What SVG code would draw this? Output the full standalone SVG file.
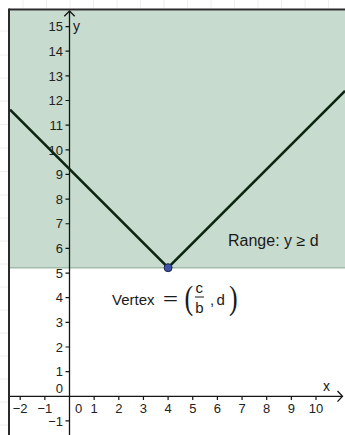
<svg xmlns="http://www.w3.org/2000/svg" width="345" height="435" viewBox="0 0 345 435">
<style>
.g{stroke:#eeeeee;stroke-width:1}
.ax{stroke:#151515;stroke-width:1.3;fill:none}
.tk{stroke:#151515;stroke-width:1.2}
.yl{font-family:"Liberation Sans",Arial,sans-serif;font-size:13px;fill:#222;text-anchor:end}
.xl{font-family:"Liberation Sans",Arial,sans-serif;font-size:13px;fill:#222;text-anchor:middle}
.t{font-family:"Liberation Sans",Arial,sans-serif;fill:#1a1a1a}
.p{font-family:"Liberation Serif","Times New Roman",serif;fill:#1a1a1a}
</style>
<rect x="0" y="0" width="345" height="435" fill="#ffffff"/>
<g id="margin-grid">
<path class="g" d="M23 0V8M46.5 0V8M70 0V8M93.5 0V8M117 0V8M140.5 0V8M164 0V8M187.5 0V8M211 0V8M234.5 0V8M258 0V8M281.5 0V8M305 0V8M328.5 0V8"/>
<path class="g" d="M0 31H8M0 55H8M0 78H8M0 101H8M0 124.5H8M0 148H8M0 171.5H8M0 195H8M0 218H8M0 241H8M0 264H8M0 287H8M0 310H8M0 333H8M0 356H8M0 379H8M0 402H8M0 425H8"/>
</g>
<g id="range-region">
<rect x="10" y="10.5" width="335" height="257.2" fill="#c7dbce"/>
<line x1="10" y1="267.7" x2="345" y2="267.7" stroke="#a2bba9" stroke-width="1.6"/>
</g>
<g id="frame">
<line x1="9" y1="9.5" x2="345" y2="9.5" stroke="#2a2a2a" stroke-width="2"/>
<line x1="9" y1="8.5" x2="9" y2="435" stroke="#2a2a2a" stroke-width="2"/>
</g>
<g id="axes">
<line class="ax" x1="10" y1="396.3" x2="342.5" y2="396.3"/>
<polyline class="ax" points="337.5,391 342.5,396.3 337.5,401.6"/>
<line class="ax" x1="69.5" y1="435" x2="69.5" y2="11"/>
<polyline class="ax" points="64.3,16.2 69.5,11 74.7,16.2"/>
<path class="tk" d="M20.2 396.3V400M44.85 396.3V400M94.15 396.3V400M118.8 396.3V400M143.45 396.3V400M168.1 396.3V400M192.75 396.3V400M217.4 396.3V400M242.05 396.3V400M266.7 396.3V400M291.35 396.3V400M316 396.3V400"/>
<path class="tk" d="M65.5 420.95H69.5M65.5 371.65H69.5M65.5 347H69.5M65.5 322.35H69.5M65.5 297.7H69.5M65.5 273.05H69.5M65.5 248.4H69.5M65.5 223.75H69.5M65.5 199.1H69.5M65.5 174.45H69.5M65.5 149.8H69.5M65.5 125.15H69.5M65.5 100.5H69.5M65.5 75.85H69.5M65.5 51.2H69.5M65.5 26.55H69.5"/>
<text class="t" x="323" y="391" font-size="14">x</text>
<text class="t" x="73" y="31" font-size="14">y</text>
</g>
<g id="x-labels">
<text class="xl" x="20.2" y="413">−2</text>
<text class="xl" x="44.85" y="413">−1</text>
<text class="xl" x="78.5" y="413">0</text>
<text class="xl" x="94.15" y="413">1</text>
<text class="xl" x="118.8" y="413">2</text>
<text class="xl" x="143.45" y="413">3</text>
<text class="xl" x="168.1" y="413">4</text>
<text class="xl" x="192.75" y="413">5</text>
<text class="xl" x="217.4" y="413">6</text>
<text class="xl" x="242.05" y="413">7</text>
<text class="xl" x="266.7" y="413">8</text>
<text class="xl" x="291.35" y="413">9</text>
<text class="xl" x="316" y="413">10</text>
</g>
<g id="y-labels">
<text class="yl" x="63" y="425.6">−1</text>
<text class="yl" x="63" y="393">0</text>
<text class="yl" x="63" y="376.3">1</text>
<text class="yl" x="63" y="351.7">2</text>
<text class="yl" x="63" y="327">3</text>
<text class="yl" x="63" y="302.4">4</text>
<text class="yl" x="63" y="277.7">5</text>
<text class="yl" x="63" y="253.1">6</text>
<text class="yl" x="63" y="228.4">7</text>
<text class="yl" x="63" y="203.8">8</text>
<text class="yl" x="63" y="179.1">9</text>
<text class="yl" x="63" y="154.5">10</text>
<text class="yl" x="63" y="129.8">11</text>
<text class="yl" x="63" y="105.2">12</text>
<text class="yl" x="63" y="80.5">13</text>
<text class="yl" x="63" y="55.9">14</text>
<text class="yl" x="63" y="31.2">15</text>
</g>
<g id="abs-graph">
<polyline points="10,109.6 168.1,267.7 345,90.8" fill="none" stroke="#0b2510" stroke-width="2.6" stroke-linejoin="round"/>
</g>
<g id="vertex">
<circle cx="168.1" cy="267.7" r="4" fill="#3f51a3" stroke="#1c2450" stroke-width="1"/>
</g>
<g id="range-label">
<text class="t" x="228" y="246" font-size="16" fill="#1a2a1e">Range: y ≥ d</text>
</g>
<g id="vertex-label">
<text class="t" x="112" y="305" font-size="15">Vertex</text>
<text class="t" x="163" y="304" font-size="14" textLength="15" lengthAdjust="spacingAndGlyphs">=</text>
<text class="p" font-size="26" transform="translate(184.5,309) scale(1,1.3)">(</text>
<text class="t" x="199.3" y="293" font-size="15" text-anchor="middle">c</text>
<line x1="195" y1="297" x2="204" y2="297" stroke="#1a1a1a" stroke-width="1"/>
<text class="t" x="199.3" y="313" font-size="15" text-anchor="middle">b</text>
<text class="t" x="210" y="305" font-size="15">,</text>
<text class="t" x="216.5" y="305" font-size="15">d</text>
<text class="p" font-size="26" transform="translate(229,309) scale(1,1.3)">)</text>
</g>
</svg>
